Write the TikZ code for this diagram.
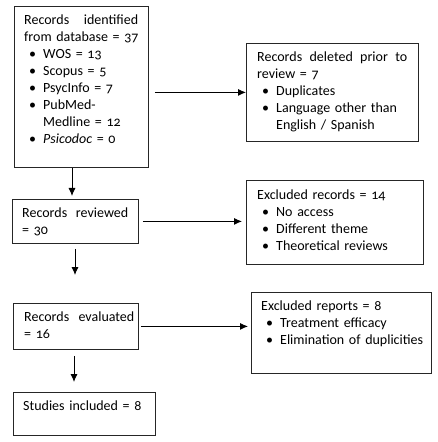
\documentclass[tikz,border=0pt]{standalone}
\usepackage{fontspec}
\setmainfont{Carlito}[Numbers=OldStyle]
\usetikzlibrary{arrows.meta,calc}
\newcommand\bul{\hspace*{5bp}\makebox[14bp][l]{\textbullet}}
\newcommand\cont{\hspace*{19bp}}
\newcommand\fs{\rule{0pt}{11bp}}
\begin{document}
\begin{tikzpicture}[x=1bp,y=-1bp,
  box/.style={draw=black!85, line width=0.8bp, anchor=north west, inner sep=0},
  txt/.style={anchor=north west, inner sep=0, align=left, font=\fontsize{14bp}{17bp}\selectfont},
  arr/.style={draw=black, line width=0.9bp, -{Latex[length=8bp,width=7bp]}}]
\useasboundingbox (0,0) rectangle (438,442);
% boxes
\node[box, minimum width=134bp, minimum height=161bp] (b1) at (14,6) {};
\node[box, minimum width=172bp, minimum height=98bp] (del) at (246,43) {};
\node[box, minimum width=126bp, minimum height=44bp] (rev) at (12,199) {};
\node[box, minimum width=177bp, minimum height=84bp] (exr) at (246,180) {};
\node[box, minimum width=125bp, minimum height=46bp] (eval) at (13,303) {};
\node[box, minimum width=180bp, minimum height=81bp] (exp) at (251,292) {};
\node[box, minimum width=142bp, minimum height=43bp] (stu) at (13,392) {};
% texts
\node[txt, text width=116bp] (t1) at (24,13.5) {\fs\hbox to 114bp{Records\hfill identified}\\
from database = 37\\
\bul WOS = 13\\
\bul Scopus = 5\\
\bul PsycInfo = 7\\
\bul PubMed-\\
\cont Medline = 12\\
\bul \textit{Psicodoc} = 0};
\node[txt, text width=152bp] (tdel) at (257,50.5) {\fs\hbox to 150bp{Records\hfill deleted\hfill prior\hfill to}\\
review = 7\\
\bul Duplicates\\
\bul Language other than\\
\cont English / Spanish};
\node[txt, text width=108bp] (trev) at (22,206.5) {\fs\hbox to 106bp{Records\hfill reviewed}\\
= 30};
\node[txt, text width=165bp] (texr) at (257,188.5) {\fs Excluded records = 14\\
\bul No access\\
\bul Different theme\\
\bul Theoretical reviews};
\node[txt, text width=125bp] (teval) at (24,310.5) {\fs\mbox{Records\ \ evaluated}\\
= 16};
\node[txt, text width=168bp] (texp) at (261,299.5) {\fs Excluded reports = 8\\
\bul Treatment efficacy\\
\bul Elimination of duplicities};
\node[txt, text width=130bp] (tstu) at (23,399.5) {\fs Studies included = 8};
% connector helpers
\coordinate (c1) at (72,0);
\coordinate (c2) at (75,275);
\coordinate (c3) at (74,382);
% connectors
\draw[arr] ([xshift=6bp]b1.east |- del.west) -- (del.west);
\draw[arr] ([xshift=4bp]rev.east) -- ([xshift=-4bp]rev.east -| exr.west);
\draw[arr] ([xshift=2bp]eval.east) -- ([xshift=-3bp]eval.east -| exp.west);
\draw[arr] (b1.south -| c1) -- ([yshift=3bp]rev.north -| c1);
\draw[arr] ([yshift=-5bp]rev.south -| c2) -- (c2);
\draw[arr] ([yshift=-6bp]eval.south -| c3) -- (c3);
\end{tikzpicture}
\end{document}
